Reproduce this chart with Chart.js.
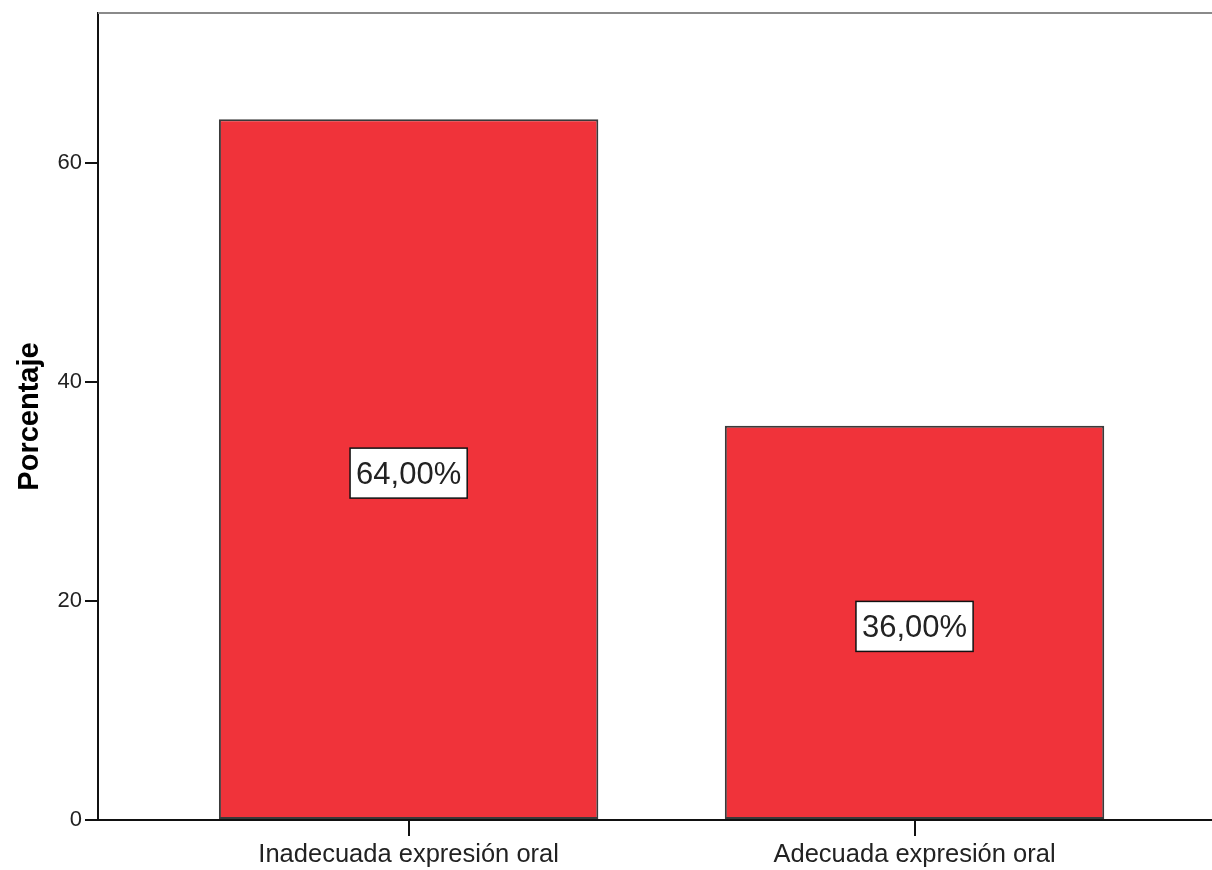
<!DOCTYPE html>
<html>
<head>
<meta charset="utf-8">
<script src="https://cdn.jsdelivr.net/npm/chart.js@4.4.1/dist/chart.umd.min.js"></script>
<style>
  body { margin: 0; background: #fff; overflow: hidden; }
</style>
</head>
<body>
<canvas id="myChart" width="1212" height="870"></canvas>

<script>
// datos
var categories = ["Inadecuada expresión oral", "Adecuada expresión oral"];
var porcentaje = [64, 36];
var barLabels = ["64,00%", "36,00%"];
var yTicks = [0, 20, 40, 60];

var barColor = "rgb(240,51,58)";

// etiqueta en caja blanca en el centro de cada barra
var boxLabels = {
  id: "boxLabels",
  afterDatasetsDraw: function (chart) {
    var ctx = chart.ctx;
    var meta = chart.getDatasetMeta(0);
    ctx.save();
    ctx.font = "31px 'Liberation Sans', Arial, sans-serif";
    meta.data.forEach(function (bar, i) {
      var txt = barLabels[i];
      var w = ctx.measureText(txt).width + 12;
      var h = 50;
      var cx = bar.x;
      var cy = (bar.y + bar.base) / 2 + 4;
      ctx.fillStyle = "#fff";
      ctx.fillRect(cx - w / 2, cy - h / 2, w, h);
      ctx.strokeStyle = "#111";
      ctx.lineWidth = 1.5;
      ctx.strokeRect(cx - w / 2, cy - h / 2, w, h);
      ctx.fillStyle = "#222";
      ctx.textAlign = "center";
      ctx.textBaseline = "alphabetic";
      ctx.fillText(txt, cx, cy + 11);
    });
    ctx.restore();
  }
};

// linea gris superior del marco
var topFrame = {
  id: "topFrame",
  afterDraw: function (chart) {
    var a = chart.chartArea;
    var ctx = chart.ctx;
    ctx.save();
    ctx.strokeStyle = "#8a8a8a";
    ctx.lineWidth = 2;
    ctx.beginPath();
    ctx.moveTo(a.left, a.top);
    ctx.lineTo(a.right, a.top);
    ctx.stroke();
    ctx.restore();
  }
};

new Chart("myChart", {
  type: "bar",
  data: {
    datasets: [{
      data: porcentaje.map(function (v, i) { return { x: i, y: v }; }),
      backgroundColor: barColor,
      borderColor: "#3a3a3a",
      borderWidth: 2,
      borderSkipped: false,
      categoryPercentage: 1,
      barPercentage: 0.75
    }]
  },
  options: {
    responsive: false,
    animation: false,
    layout: { padding: { top: 13, right: 0, left: 0, bottom: 0 } },
    plugins: {
      legend: { display: false },
      tooltip: { enabled: false }
    },
    scales: {
      x: {
        type: "linear",
        offset: false,
        min: -0.614,
        max: 1.588,
        grid: { offset: false, drawOnChartArea: false, tickLength: 16, color: "#111", lineWidth: 2 },
        border: { color: "#111", width: 2 },
        afterBuildTicks: function (scale) {
          scale.ticks = categories.map(function (c, i) { return { value: i }; });
        },
        afterFit: function (scale) { scale.height = 50; },
        ticks: {
          padding: 4,
          color: "#222",
          font: { family: "'Liberation Sans', Arial, sans-serif", size: 25.5 },
          callback: function (v) { return categories[v]; }
        }
      },
      y: {
        min: 0,
        max: 73.7,
        grid: { drawOnChartArea: false, tickLength: 13, color: "#111", lineWidth: 2 },
        border: { color: "#111", width: 2 },
        afterBuildTicks: function (scale) {
          scale.ticks = yTicks.map(function (v) { return { value: v }; });
        },
        afterFit: function (scale) {
          scale.width = 98;
          scale.paddingTop = 0;
        },
        ticks: {
          padding: 3,
          color: "#222",
          font: { family: "'Liberation Sans', Arial, sans-serif", size: 22 }
        },
        title: {
          display: true,
          text: "Porcentaje",
          color: "#000",
          padding: { top: 13, bottom: 0 },
          font: { family: "'Liberation Sans', Arial, sans-serif", size: 29, weight: "bold" }
        }
      }
    }
  },
  plugins: [boxLabels, topFrame]
});
</script>
</body>
</html>
